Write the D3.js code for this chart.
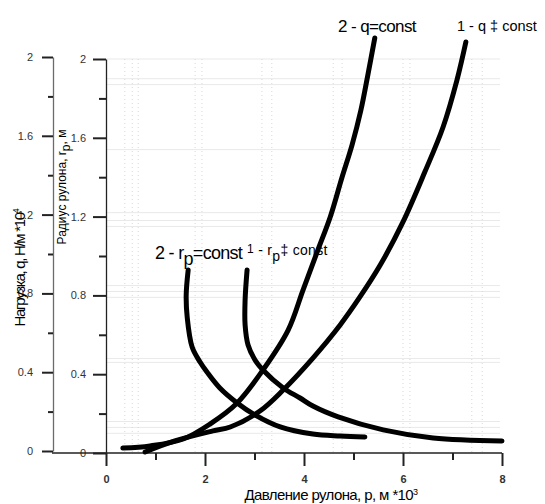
<!DOCTYPE html>
<html>
<head>
<meta charset="utf-8">
<script src="https://cdn.jsdelivr.net/npm/d3@7"></script>
<style>
  body { margin: 0; background: #fff; }
  svg { font-family: "Liberation Sans", Arial, sans-serif; }
</style>
</head>
<body>
<svg id="chart" width="545" height="504"></svg>
<script>
// --- data (p in 10^3, r / q in the axis units) ---
const curveQConst = [ // 2 - q=const
  [0.34, 0.025], [0.89, 0.036], [1.56, 0.071], [2.10, 0.147], [2.65, 0.254],
  [3.17, 0.421], [3.68, 0.624], [3.98, 0.827], [4.28, 1.03], [4.53, 1.198],
  [4.77, 1.401], [4.97, 1.563], [5.15, 1.741], [5.29, 1.919], [5.43, 2.107]
];
const curveQVar = [ // 1 - q ‡ const
  [0.79, 0.005], [1.39, 0.061], [2.16, 0.112], [2.51, 0.132], [3.11, 0.213],
  [3.58, 0.320], [4.18, 0.482], [4.73, 0.650], [5.13, 0.792], [5.54, 0.954],
  [6.00, 1.173], [6.44, 1.426], [6.81, 1.655], [7.09, 1.893], [7.27, 2.086]
];
const curveRConst = [ // 2 - rp=const
  [1.66, 0.919], [1.62, 0.792], [1.64, 0.680], [1.74, 0.528], [1.90, 0.452],
  [2.04, 0.401], [2.30, 0.320], [2.65, 0.244], [3.01, 0.183], [3.52, 0.122],
  [4.18, 0.086], [4.73, 0.076], [5.23, 0.071]
];
const curveRVar = [ // 1 - rp ‡ const
  [2.85, 0.919], [2.81, 0.766], [2.81, 0.640], [2.87, 0.538], [3.01, 0.462],
  [3.17, 0.411], [3.58, 0.320], [3.92, 0.269], [4.18, 0.228], [4.69, 0.173],
  [5.60, 0.107], [6.61, 0.066], [8.00, 0.051]
];

const yMajor = [0, 0.4, 0.8, 1.2, 1.6, 2];
const yMinor = [0.2, 0.6, 1.0, 1.4, 1.8];
const xMajor = [0, 2, 4, 6, 8];
const xMinor = [1, 3, 5, 7];
// faint scan grid
const gridH = [2.0, 1.90, 1.87, 1.54, 1.22, 1.18, 1.15, 0.85, 0.82, 0.79, 0.48, 0.46, 0.16, 0.13, 0.10];
const gridV = [0.38, 0.53, 0.65, 1.80, 1.94, 3.15, 3.35, 4.59, 4.77, 6.0, 6.14, 7.39, 7.60];

const svg = d3.select("#chart");

const x = d3.scaleLinear().domain([0, 8]).range([106, 502]);
const yR = d3.scaleLinear().domain([0, 2]).range([453, 59]);   // радиус
const yQ = d3.scaleLinear().domain([0, 2]).range([451, 57]);   // нагрузка

// grid
const grid = svg.append("g");
grid.selectAll("line.h")
  .data(gridH)
  .join("line")
  .attr("x1", x(0)).attr("x2", 500)
  .attr("y1", d => yR(d)).attr("y2", d => yR(d))
  .attr("stroke", "#e9e9e9").attr("stroke-width", 1);
grid.selectAll("line.v")
  .data(gridV)
  .join("line")
  .attr("x1", d => x(d)).attr("x2", d => x(d))
  .attr("y1", yR(2)).attr("y2", yR(0))
  .attr("stroke", "#d8d8d8").attr("stroke-width", 1)
  .attr("stroke-dasharray", "1,3");

// left axis (нагрузка)
const fmt = d => String(d);
const qAxis = svg.append("g")
  .attr("transform", "translate(53,0)")
  .call(d3.axisLeft(yQ).tickValues(yMajor).tickSize(11).tickPadding(9).tickSizeOuter(0).tickFormat(fmt));
svg.append("g")
  .attr("transform", "translate(53,0)")
  .call(d3.axisLeft(yQ).tickValues(yMinor).tickSize(5).tickSizeOuter(0).tickFormat(""))
  .call(g => g.select(".domain").remove());
svg.selectAll("g").filter(function () { return this.getAttribute("transform") === "translate(53,0)"; })
  .selectAll("line, path").attr("stroke", "#6b6b6b").attr("stroke-width", 1.3);
qAxis.selectAll("text").attr("font-size", 11).attr("fill", "#333").attr("font-family", "Liberation Sans, Arial");

// second axis (радиус)
const rAxis = svg.append("g")
  .attr("transform", "translate(106,0)")
  .call(d3.axisLeft(yR).tickValues(yMajor).tickSize(13).tickPadding(7).tickSizeOuter(0).tickFormat(fmt));
svg.append("g")
  .attr("transform", "translate(106,0)")
  .call(d3.axisLeft(yR).tickValues(yMinor).tickSize(7).tickSizeOuter(0).tickFormat(""))
  .call(g => g.select(".domain").remove());
rAxis.selectAll("text").attr("font-size", 11).attr("fill", "#333").attr("font-family", "Liberation Sans, Arial");
svg.selectAll("g").filter(function () { return this.getAttribute("transform") === "translate(106,0)"; })
  .selectAll("line, path").attr("stroke", "#222").attr("stroke-width", 1.3);

// x axis
svg.append("line")
  .attr("x1", 52).attr("x2", x(8))
  .attr("y1", yR(0)).attr("y2", yR(0))
  .attr("stroke", "#222").attr("stroke-width", 1.3);
const xAxis = svg.append("g")
  .attr("transform", `translate(0,${yR(0)})`)
  .call(d3.axisBottom(x).tickValues(xMajor).tickSize(13).tickPadding(9).tickSizeOuter(0).tickFormat(fmt))
  .call(g => g.select(".domain").remove());
svg.append("g")
  .attr("transform", `translate(0,${yR(0)})`)
  .call(d3.axisBottom(x).tickValues(xMinor).tickSize(7).tickFormat(""))
  .call(g => g.select(".domain").remove());
svg.selectAll("g").filter(function () { return (this.getAttribute("transform") || "").startsWith("translate(0,"); })
  .selectAll("line").attr("stroke", "#222").attr("stroke-width", 2);
xAxis.selectAll("text").attr("font-size", 11).attr("font-weight", "bold").attr("fill", "#333")
  .attr("font-family", "Liberation Sans, Arial");

// curves
const line = yScale => d3.line()
  .x(d => x(d[0]))
  .y(d => yScale(d[1]))
  .curve(d3.curveCatmullRom.alpha(0.5));

[[curveQConst, yR], [curveQVar, yR], [curveRConst, yQ], [curveRVar, yQ]].forEach(([data, ys]) => {
  svg.append("path")
    .datum(data)
    .attr("d", line(ys))
    .attr("fill", "none")
    .attr("stroke", "#000")
    .attr("stroke-width", 5)
    .attr("stroke-linecap", "round")
    .attr("stroke-linejoin", "round");
});

// curve labels
svg.append("text")
  .attr("x", 338).attr("y", 32)
  .attr("font-size", 17).attr("letter-spacing", -0.6)
  .text("2 - q=const");
svg.append("text")
  .attr("x", 457).attr("y", 31)
  .attr("font-size", 14.5)
  .text("1 - q ‡ const");

const t2 = svg.append("text")
  .attr("x", 155).attr("y", 259)
  .attr("font-size", 18).attr("letter-spacing", -0.7);
t2.append("tspan").text("2 - r");
t2.append("tspan").attr("dy", 6).text("p");
t2.append("tspan").attr("dy", -6).text("=const");

const t1 = svg.append("text")
  .attr("x", 247).attr("y", 255)
  .attr("font-size", 14).attr("letter-spacing", 0.3);
t1.append("tspan").attr("font-size", 12).attr("dy", -2).text("1");
t1.append("tspan").attr("dy", 2).text(" - r");
t1.append("tspan").attr("dy", 6).text("p");
t1.append("tspan").attr("dy", -6).text("‡ const");

// axis titles
const tq = svg.append("text")
  .attr("transform", "translate(25,268) rotate(-90)")
  .attr("text-anchor", "middle")
  .attr("font-size", 15).attr("letter-spacing", -1.3);
tq.append("tspan").text("Нагрузка, q, Н/м *10");
tq.append("tspan").attr("dy", -6).attr("font-size", 9).text("4");

const tr = svg.append("text")
  .attr("transform", "translate(66,187) rotate(-90)")
  .attr("text-anchor", "middle")
  .attr("font-size", 12);
tr.append("tspan").text("Радиус рулона, r");
tr.append("tspan").attr("dy", 4).text("p");
tr.append("tspan").attr("dy", -4).text(", м");

const tx = svg.append("text")
  .attr("x", 331).attr("y", 500)
  .attr("text-anchor", "middle")
  .attr("font-size", 15).attr("letter-spacing", -0.6);
tx.append("tspan").text("Давление рулона, р, м *10");
tx.append("tspan").attr("dy", -5).attr("font-size", 9).text("3");
</script>
</body>
</html>
